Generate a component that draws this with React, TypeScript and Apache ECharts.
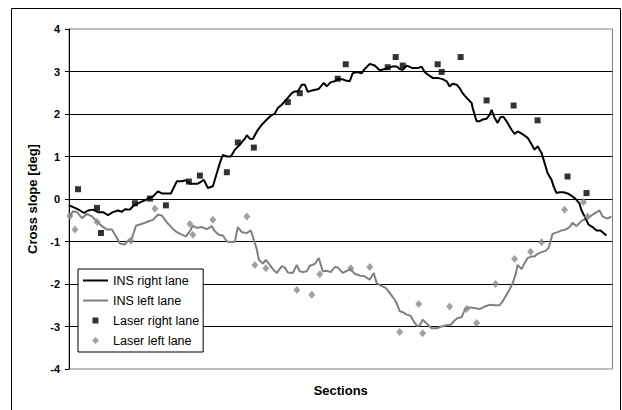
import React, { useEffect, useRef } from "react";
import * as echarts from "echarts";

// Section positions (x) and cross slope values in degrees (y)
const insRightLane: [number, number][] = [
  [0, -0.15], [6, -0.21], [11, -0.27], [15, -0.33], [19, -0.27], [24, -0.25], [29, -0.31], [34, -0.31],
  [39, -0.38], [44, -0.31], [49, -0.27], [53, -0.3], [56, -0.24], [61, -0.25], [64, -0.17], [71, -0.08],
  [76, -0.03], [80, 0.02], [84, 0.06], [89, 0.18], [93, 0.13], [98, 0.13], [102, 0.13], [108, 0.42],
  [113, 0.42], [117, 0.44], [121, 0.36], [129, 0.36], [135, 0.45], [139, 0.26], [144, 0.3], [148, 0.61],
  [151, 0.85], [154, 1.04], [158, 1.0], [162, 1.0], [166, 1.16], [171, 1.28], [176, 1.42], [178, 1.5],
  [181, 1.42], [184, 1.41], [188, 1.59], [193, 1.75], [198, 1.87], [202, 1.96], [206, 2.01], [209, 2.14],
  [213, 2.22], [216, 2.3], [219, 2.38], [223, 2.49], [226, 2.53], [229, 2.53], [233, 2.69], [236, 2.69],
  [239, 2.52], [244, 2.56], [250, 2.59], [255, 2.73], [258, 2.65], [262, 2.75], [266, 2.77], [269, 2.82],
  [273, 2.82], [277, 2.79], [281, 2.77], [284, 2.96], [288, 2.99], [293, 2.96], [296, 3.06], [301, 3.18],
  [306, 3.14], [311, 3.03], [316, 3.06], [319, 3.08], [324, 3.12], [328, 3.12], [331, 3.06], [334, 3.04],
  [338, 3.14], [341, 3.11], [344, 3.08], [349, 3.08], [353, 3.11], [356, 2.99], [359, 2.93], [364, 2.85],
  [369, 2.85], [374, 2.82], [378, 2.77], [381, 2.65], [384, 2.71], [388, 2.69], [391, 2.61], [394, 2.49],
  [398, 2.38], [403, 2.26], [404, 2.14], [408, 1.83], [411, 1.83], [414, 1.87], [418, 1.89], [421, 1.98],
  [423, 2.1], [426, 1.91], [429, 1.79], [432, 1.93], [435, 1.93], [439, 1.79], [443, 1.63], [446, 1.53],
  [449, 1.59], [453, 1.54], [456, 1.49], [459, 1.44], [463, 1.29], [466, 1.16], [469, 1.24], [473, 1.08],
  [476, 0.85], [479, 0.61], [483, 0.45], [485, 0.3], [488, 0.14], [491, 0.16], [495, 0.16], [499, 0.13],
  [504, 0.06], [508, -0.02], [511, -0.11], [513, -0.27], [517, -0.45], [520, -0.6], [524, -0.66],
  [528, -0.74], [532, -0.74], [534, -0.78], [538, -0.86],
];

const insLeftLane: [number, number][] = [
  [0, -0.45], [4, -0.29], [8, -0.31], [13, -0.45], [18, -0.35], [23, -0.41], [28, -0.53], [33, -0.64],
  [38, -0.72], [43, -0.72], [48, -0.92], [51, -1.05], [56, -1.07], [59, -0.98], [63, -0.92], [67, -0.63],
  [71, -0.6], [76, -0.56], [79, -0.53], [84, -0.49], [89, -0.37], [93, -0.39], [98, -0.55], [103, -0.68],
  [108, -0.78], [113, -0.84], [117, -0.88], [121, -0.76], [124, -0.63], [128, -0.68], [133, -0.66],
  [138, -0.71], [143, -0.64], [146, -0.76], [150, -0.84], [154, -0.86], [158, -1.0], [162, -1.01],
  [166, -1.01], [169, -0.66], [173, -0.78], [178, -0.8], [182, -0.74], [185, -0.96], [188, -1.19],
  [190, -1.43], [194, -1.52], [197, -1.43], [201, -1.55], [204, -1.65], [208, -1.74], [213, -1.58],
  [216, -1.61], [219, -1.73], [224, -1.74], [228, -1.55], [231, -1.7], [234, -1.72], [238, -1.7],
  [241, -1.57], [246, -1.53], [250, -1.39], [254, -1.7], [258, -1.69], [262, -1.72], [266, -1.6],
  [269, -1.61], [274, -1.74], [278, -1.69], [282, -1.65], [286, -1.76], [291, -1.8], [296, -1.82],
  [301, -1.9], [305, -1.74], [308, -1.98], [313, -2.05], [317, -2.09], [321, -2.21], [326, -2.37],
  [328, -2.45], [331, -2.64], [334, -2.66], [338, -2.72], [342, -2.75], [345, -2.88], [348, -2.98],
  [351, -2.98], [354, -2.84], [358, -2.93], [361, -3.0], [363, -3.04], [368, -3.04], [373, -3.0],
  [378, -2.97], [382, -2.96], [386, -2.86], [389, -2.8], [393, -2.78], [396, -2.62], [399, -2.55],
  [404, -2.56], [411, -2.59], [416, -2.53], [421, -2.49], [426, -2.5], [431, -2.5], [434, -2.41],
  [438, -2.25], [441, -2.13], [444, -1.98], [447, -1.78], [449, -1.55], [453, -1.65], [456, -1.51],
  [459, -1.39], [463, -1.35], [466, -1.35], [469, -1.29], [473, -1.25], [477, -1.22], [480, -1.15],
  [484, -0.82], [489, -0.78], [493, -0.74], [498, -0.71], [501, -0.66], [504, -0.56], [508, -0.64],
  [511, -0.56], [514, -0.5], [518, -0.47], [521, -0.42], [524, -0.37], [528, -0.31], [531, -0.27],
  [534, -0.41], [539, -0.46], [543, -0.41],
];

const laserRightLane: [number, number][] = [
  [9, 0.23], [28, -0.21], [32, -0.8], [66, -0.1], [81, 0.01], [97, -0.15], [120, 0.41], [131, 0.55],
  [158, 0.63], [169, 1.33], [185, 1.21], [219, 2.28], [231, 2.49], [269, 2.83], [277, 3.17], [319, 3.1],
  [327, 3.34], [334, 3.14], [369, 3.17], [373, 2.99], [392, 3.34], [418, 2.32], [445, 2.2], [469, 1.85],
  [499, 0.53], [518, 0.14],
];

const laserLeftLane: [number, number][] = [
  [1, -0.4], [6, -0.72], [28, -0.54], [62, -0.98], [86, -0.23], [121, -0.59], [124, -0.84], [144, -0.49],
  [178, -0.41], [186, -1.55], [197, -1.63], [228, -2.14], [243, -2.25], [251, -1.77], [282, -1.63],
  [301, -1.6], [331, -3.13], [350, -2.47], [354, -3.16], [381, -2.53], [398, -2.59], [408, -2.92],
  [427, -2.0], [446, -1.41], [462, -1.24], [473, -1.02], [496, -0.25], [515, -0.07], [519, -0.41],
];

const yTicks = { min: -4, max: 4, interval: 1 };
const seriesNames = ["INS right lane", "INS left lane", "Laser right lane", "Laser left lane"];

const FONT = "Liberation Sans, Arial, sans-serif";

// Legend icons: a 25x7 frame (two moveTo points) with the visible glyph inside
const ICON_LINE = "path://M0,0M25,7M0,2.5L25,2.5L25,4.5L0,4.5Z";
const ICON_SQUARE = "path://M0,0M25,7M9.5,0.5L15.5,0.5L15.5,6.5L9.5,6.5Z";
const ICON_DIAMOND = "path://M0,0M25,7M12.5,0L16,3.5L12.5,7L9,3.5Z";

export default function App() {
  const ref = useRef<HTMLDivElement>(null);
  useEffect(() => {
    if (!ref.current) return;
    const chart = echarts.init(ref.current, undefined, { renderer: "svg" });
    chart.setOption({
      animation: false,
      backgroundColor: "#ffffff",
      textStyle: { fontFamily: FONT },
      graphic: [
        {
          type: "rect",
          shape: { x: 11.5, y: 8.5, width: 609, height: 410 },
          style: { fill: "none", stroke: "#000", lineWidth: 1 },
          silent: true,
          z: 0,
        },
      ],
      grid: {
        left: 69,
        right: 9.5,
        top: 29,
        bottom: 41,
        show: true,
        borderColor: "#808080",
        borderWidth: 1,
        backgroundColor: "transparent",
      },
      legend: {
        orient: "vertical",
        left: 78,
        top: 269,
        padding: [5, 4, 5, 5],
        itemGap: 7,
        itemWidth: 25,
        itemHeight: 7,
        symbolKeepAspect: true,
        backgroundColor: "#fff",
        borderColor: "#000",
        borderWidth: 1,
        borderRadius: 0,
        textStyle: { fontSize: 12.5, color: "#000", fontFamily: FONT },
        data: [
          { name: seriesNames[0], icon: ICON_LINE, itemStyle: { color: "#000" } },
          { name: seriesNames[1], icon: ICON_LINE, itemStyle: { color: "#808080" } },
          { name: seriesNames[2], icon: ICON_SQUARE, itemStyle: { color: "#000" } },
          { name: seriesNames[3], icon: ICON_DIAMOND, itemStyle: { color: "#8a8a8a" } },
        ],
      },
      xAxis: {
        type: "value",
        min: 0,
        max: 544,
        name: "Sections",
        nameLocation: "middle",
        nameGap: 15,
        nameTextStyle: { fontSize: 13, fontWeight: "bold", color: "#000", fontFamily: FONT },
        axisLine: { show: false },
        axisTick: { show: false },
        axisLabel: { show: false },
        splitLine: { show: false },
      },
      yAxis: {
        type: "value",
        min: yTicks.min,
        max: yTicks.max,
        interval: yTicks.interval,
        name: "Cross slope [deg]",
        nameLocation: "middle",
        nameGap: 29,
        nameTextStyle: { fontSize: 13, fontWeight: "bold", color: "#000", fontFamily: FONT },
        axisLine: { show: true, lineStyle: { color: "#000", width: 1 } },
        axisTick: { show: true, length: 4, lineStyle: { color: "#000" } },
        axisLabel: { fontSize: 11, fontWeight: "bold", color: "#000", margin: 9, fontFamily: FONT },
        splitLine: { show: true, showMinLine: false, showMaxLine: false, lineStyle: { color: "#000", width: 1 } },
      },
      series: [
        {
          name: seriesNames[0],
          type: "line",
          data: insRightLane,
          showSymbol: false,
          symbol: "none",
          lineStyle: { color: "#000", width: 2 },
          itemStyle: { color: "#000" },
          z: 3,
        },
        {
          name: seriesNames[1],
          type: "line",
          data: insLeftLane,
          showSymbol: false,
          symbol: "none",
          lineStyle: { color: "#808080", width: 2 },
          itemStyle: { color: "#808080" },
          z: 2,
        },
        {
          name: seriesNames[2],
          type: "scatter",
          data: laserRightLane,
          symbol: "rect",
          symbolSize: 6,
          itemStyle: { color: "#000" },
          z: 4,
        },
        {
          name: seriesNames[3],
          type: "scatter",
          data: laserLeftLane,
          symbol: "diamond",
          symbolSize: [7, 8],
          itemStyle: { color: "#8a8a8a" },
          z: 4,
        },
      ],
    });
    return () => chart.dispose();
  }, []);
  return (
    <div
      ref={ref}
      style={{ position: "absolute", left: 0, top: 0, width: 622, height: 410, background: "#fff" }}
    />
  );
}
